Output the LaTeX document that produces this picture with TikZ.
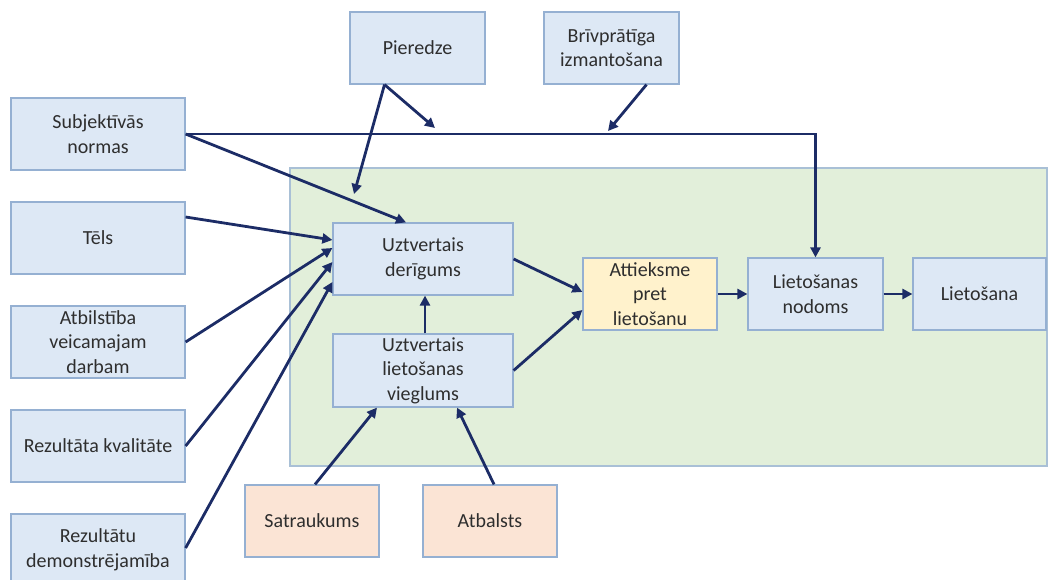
\documentclass[tikz,border=0pt]{standalone}
\usepackage{fontspec}
\setmainfont{Carlito}
\usetikzlibrary{arrows.meta,calc}
\definecolor{boxfill}{HTML}{DDE8F5}
\definecolor{boxline}{HTML}{95B0D2}
\definecolor{greenfill}{HTML}{E2EFDA}
\definecolor{greenline}{HTML}{A9C0D6}
\definecolor{yellowfill}{HTML}{FFF2CC}
\definecolor{peachfill}{HTML}{FBE4D5}
\definecolor{arrowcol}{HTML}{1C2C66}
\definecolor{txt}{HTML}{2E2E2E}
\begin{document}
\begin{tikzpicture}[x=1pt,y=-1pt,
  box/.style={draw=boxline, line width=1.2pt, fill=boxfill, text=txt,
    align=center, inner sep=0pt, font=\fontsize{20}{24.5}\selectfont},
  smallbox/.style={box, minimum width=135pt, minimum height=72pt},
  leftbox/.style={box, minimum width=174pt, minimum height=72pt},
  midbox/.style={box, minimum width=180pt, minimum height=72pt},
  arr/.style={draw=arrowcol, line width=2.8pt, -{Triangle[length=10pt,width=10pt]}}]
\useasboundingbox (0,0) rectangle (1048,580);

% shaded core area
\fill[greenfill, draw=greenline, line width=1.2pt] (290,168) rectangle (1047,466);

% outer factors
\node[smallbox] (pier) at (417.5,48) {Pieredze};
\node[smallbox] (briv) at (611.5,48) {Brīvprātīga\\izmantošana};
\node[leftbox] (subj) at (98,134) {Subjektīvās\\normas};
\node[leftbox] (tels) at (98,238) {Tēls};
\node[leftbox] (atb) at (98,342) {Atbilstība\\veicamajam\\darbam};
\node[leftbox] (rez) at (98,446) {Rezultāta kvalitāte};
\node[leftbox] (dem) at (98,550) {Rezultātu\\demonstrējamība};
\node[smallbox, fill=peachfill, minimum width=134pt] (satr) at (312,521) {Satraukums};
\node[smallbox, fill=peachfill, minimum width=134pt] (atbal) at (490,521) {Atbalsts};

% core model
\node[midbox] (der) at (423,259) {Uztvertais\\derīgums};
\node[midbox, minimum height=73pt] (vieg) at (423,370.5) {Uztvertais\\lietošanas\\vieglums};
\node[smallbox, fill=yellowfill, minimum width=134pt] (att) at (650,294) {Attieksme\\pret\\lietošanu};
\node[smallbox] (nod) at (815.5,294) {Lietošanas\\nodoms};
\node[smallbox, minimum width=133pt] (liet) at (979.5,294) {Lietošana};

% moderator targets on connectors
\coordinate (m1) at (435,128);
\coordinate (m2) at (608,131);
\coordinate (m3) at (354,194);

% connectors
\draw[arr] (subj.east) -- (subj.east -| nod.north) -- (nod.north);
\draw[arr] (subj.east) -- ([xshift=-17pt]der.north);
\draw[arr] ([xshift=-33pt]pier.south) -- (m1);
\draw[arr] ([xshift=-33pt]pier.south) -- (m3);
\draw[arr] ([xshift=35pt]briv.south) -- (m2);
\draw[arr] ([yshift=21pt]tels.east) -- ([yshift=19pt]der.west);
\draw[arr] (atb.east) -- ([yshift=11pt]der.west);
\draw[arr] (rez.east) -- ([yshift=-3pt]der.west);
\draw[arr] ([yshift=2pt]dem.east) -- ([yshift=-23pt]der.west);
\draw[arr] (der.east) -- ([yshift=2pt]att.west);
\draw[arr] (vieg.east) -- ([yshift=-16pt]att.west);
\draw[arr] ([xshift=2pt]vieg.north) -- ([xshift=2pt]der.south);
\draw[arr] (att.east) -- (nod.west);
\draw[arr] (nod.east) -- (liet.west);
\draw[arr] ([xshift=3pt]satr.north) -- ([xshift=-46pt]vieg.south);
\draw[arr] ([xshift=4pt]atbal.north) -- ([xshift=34pt]vieg.south);
\end{tikzpicture}
\end{document}
